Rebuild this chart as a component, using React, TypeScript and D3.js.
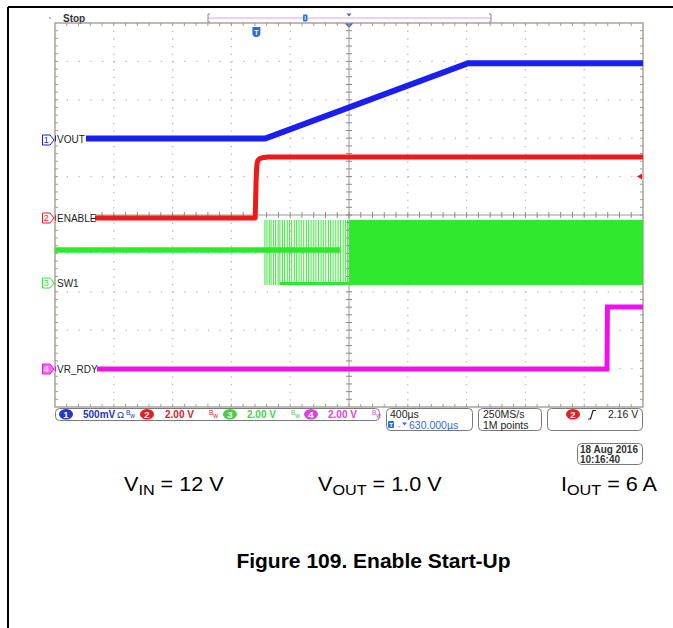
import React from 'react';
import * as d3 from 'd3';

// ---------- data ----------
const timeWindowUs = [-1370, 2630]; // 400 µs/div, 10 div, centre = trigger + 630 µs
const channelNames = ['VOUT', 'ENABLE', 'SW1', 'VR_RDY'];
const channelNumbers = ['1', '2', '3', '4'];
const channelScaleText = ['500mV', '2.00 V', '2.00 V', '2.00 V'];
const voltsPerDiv = [0.5, 2, 2, 2];

const voutTimes = [-1370, 60, 1440, 2630];
const voutVolts = [0, 0, 0.98, 0.98];

const enableTimes = [-1370, -8, -5, -2, 0, 2, 5, 10, 20, 40, 80, 2630];
const enableVolts = [0, 0, 1.0, 1.9, 2.3, 2.65, 2.85, 3.0, 3.08, 3.14, 3.18, 3.18];

const sw1IdleTimes = [-1370, 568];
const sw1IdleVolts = [1.72, 1.72];
const sw1PulseTimes = [58, 72, 88, 100, 116, 130, 148, 160, 178, 192, 210, 225, 240, 258, 272, 290, 305, 322, 340, 355, 372, 390, 405, 422, 440, 455, 472, 490, 505, 522, 540, 556, 572, 590, 605, 620];
const sw1LowRailTimes = [160, 630];
const sw1BandTimes = [630, 2630];
const sw1LowVolts = -0.1;
const sw1HighVolts = 3.28;

const vrRdyTimes = [-1370, 2385, 2388, 2630];
const vrRdyVolts = [0, 0, 3.23, 3.23];

const triggerLevelVolts = 2.16;
const triggerLevelText = '2.16 V';
const horizontalScaleText = '400µs';
const delayText = '630.000µs';
const delayUs = 630;
const sampleRateText = '250MS/s';
const recordLengthText = '1M points';
const dateLines = ['18 Aug 2016', '10:16:40'];

const condMain = ['V', 'V', 'I'];
const condSub = ['IN', 'OUT', 'OUT'];
const condRest = [' = 12 V', ' = 1.0 V', ' = 6 A'];
const captionText = 'Figure 109. Enable Start-Up';

// ---------- layout ----------
const W = 673, H = 628;
const GL = 55, GR = 643, GT = 23, GB = 407;
const divX = (GR - GL) / 10;
const divY = (GB - GT) / 10;
const grounds = [138.5, 218, 283, 369];
const colors = ['#1a1ef0', '#f01818', '#2ee82e', '#ee10ee'];
const statusColors = ['#2236c8', '#e22020', '#46d046', '#e040e0'];
const FONT = "'Liberation Sans', Arial, sans-serif";

const x = d3.scaleLinear().domain(timeWindowUs).range([GL, GR]);
const yScales = voltsPerDiv.map((vpd, i) =>
  d3.scaleLinear().domain([0, vpd]).range([grounds[i], grounds[i] - divY])
);

function linePath(ts: number[], vs: number[], ch: number) {
  const pts = ts.map((t, i) => [t, vs[i]] as [number, number]);
  return d3.line<[number, number]>().x(d => x(d[0])).y(d => yScales[ch](d[1]))(pts) || '';
}

function Graticule() {
  const els: React.ReactNode[] = [];
  const gridCol = '#b9b9b9';
  d3.range(1, 10).forEach(i => {
    if (i === 5) return;
    const gx = GL + i * divX;
    els.push(<line key={'vx' + i} x1={gx} x2={gx} y1={GT} y2={GB} stroke={gridCol} strokeWidth={1.3} strokeDasharray={`1.3 ${divY / 5 - 1.3}`} />);
    const gy = GT + i * divY;
    els.push(<line key={'hy' + i} x1={GL} x2={GR} y1={gy} y2={gy} stroke={gridCol} strokeWidth={1.3} strokeDasharray={`1.3 ${divX / 5 - 1.3}`} />);
  });
  const cx = GL + 5 * divX, cy = GT + 5 * divY;
  els.push(<line key="cxl" x1={cx} x2={cx} y1={GT} y2={GB} stroke="#9a9a9a" strokeWidth={1} />);
  els.push(<line key="cyl" x1={GL} x2={GR} y1={cy} y2={cy} stroke="#9a9a9a" strokeWidth={1} />);
  d3.range(1, 50).forEach(j => {
    const tx = GL + j * divX / 5;
    els.push(<line key={'ctx' + j} x1={tx} x2={tx} y1={cy - 3} y2={cy + 3} stroke="#8a8a8a" strokeWidth={1} />);
    els.push(<line key={'ttx' + j} x1={tx} x2={tx} y1={GT} y2={GT + 3} stroke="#9a9a9a" strokeWidth={1} />);
    els.push(<line key={'btx' + j} x1={tx} x2={tx} y1={GB - 3} y2={GB} stroke="#9a9a9a" strokeWidth={1} />);
    const ty = GT + j * divY / 5;
    els.push(<line key={'cty' + j} x1={cx - 3} x2={cx + 3} y1={ty} y2={ty} stroke="#8a8a8a" strokeWidth={1} />);
    els.push(<line key={'lty' + j} x1={GL} x2={GL + 3} y1={ty} y2={ty} stroke="#9a9a9a" strokeWidth={1} />);
    els.push(<line key={'rty' + j} x1={GR - 3} x2={GR} y1={ty} y2={ty} stroke="#9a9a9a" strokeWidth={1} />);
  });
  els.push(<rect key="border" x={GL} y={GT} width={GR - GL} height={GB - GT} fill="none" stroke="#a0968a" strokeWidth={1.3} />);
  return <g>{els}</g>;
}

function ChannelMarker({ ch }: { ch: number }) {
  const y = grounds[ch] + (ch === 0 ? 1.5 : 0);
  const filled = ch === 3;
  const col = colors[ch];
  return (
    <g>
      <path d={`M42.5,${y - 5} H50 L54,${y} L50,${y + 5} H42.5 Z`} fill={filled ? '#f070f0' : '#fff'} stroke={col} strokeWidth={1} />
      <text x={46.3} y={y + 3.3} fontSize={9} fontFamily={FONT} fill={filled ? '#fff' : col} textAnchor="middle">{channelNumbers[ch]}</text>
    </g>
  );
}

function Badge({ cx, cy, ch }: { cx: number; cy: number; ch: number }) {
  return (
    <g>
      <ellipse cx={cx} cy={cy} rx={7} ry={5.3} fill={statusColors[ch]} />
      <text x={cx} y={cy + 3.6} fontSize={9.5} fontWeight="bold" fontFamily={FONT} fill="#fff" textAnchor="middle">{channelNumbers[ch]}</text>
    </g>
  );
}

function BwIcon({ x0, y0, col }: { x0: number; y0: number; col: string }) {
  return (
    <text x={x0} y={y0} fontFamily={FONT} fill={col} fontSize={6.5}>
      <tspan dy={-2}>B</tspan><tspan dy={3}>w</tspan>
    </text>
  );
}

export default function App() {
  const labelTextW = [28, 37, 20, 39];
  const statusY = 418;
  const badgeX = [66, 147, 230, 311];
  const scaleTextX = [83, 165, 247, 328];
  const bwX = [126, 209, 291, 372];
  return (
    <svg width={W} height={H} viewBox={`0 0 ${W} ${H}`} style={{ position: 'absolute', left: 0, top: 0, background: '#fff' }}>
      <rect x={0} y={0} width={W} height={H} fill="#fff" />
      {/* page frame */}
      <line x1={8} x2={W} y1={7} y2={7} stroke="#000" strokeWidth={2} />
      <line x1={8} x2={8} y1={7} y2={H} stroke="#000" strokeWidth={2} />

      {/* top status */}
      <circle cx={50} cy={18} r={0.9} fill="#999" />
      <text x={63} y={21.5} fontSize={10} fontWeight="bold" fontFamily={FONT} fill="#333">Stop</text>
      <line x1={208} x2={491} y1={18} y2={18} stroke="#e4a4e4" strokeWidth={1} />
      <path d="M210,14 H208 V22 H210" fill="none" stroke="#888" strokeWidth={1} />
      <path d="M489,14 H491 V22 H489" fill="none" stroke="#888" strokeWidth={1} />
      <rect x={303} y={14.5} width={4.5} height={7} rx={1} fill="#2f74dc" />
      <rect x={304.5} y={16} width={1.5} height={4} fill="#9cc2f2" />
      <path d="M346.5,13.5 L351.5,13.5 L349,16.5 Z" fill="#2a6fd8" />
      <path d={`M${x(delayUs) - 4.5},${GT} L${x(delayUs) + 4.5},${GT} L${x(delayUs)},${GT + 5} Z`} fill="#2a6fd8" />
      <g>
        <path d={`M${x(0) - 4},27 H${x(0) + 4} V33 Q${x(0) + 4},37 ${x(0)},37 Q${x(0) - 4},37 ${x(0) - 4},33 Z`} fill="#2a6fd8" />
        <text x={x(0)} y={34.5} fontSize={7} fontWeight="bold" fontFamily={FONT} fill="#fff" textAnchor="middle">T</text>
      </g>

      <Graticule />

      {/* traces */}
      <defs>
        <clipPath id="gclip"><rect x={GL} y={GT} width={GR - GL} height={GB - GT} /></clipPath>
      </defs>
      <g clipPath="url(#gclip)">
        <path d={linePath(sw1IdleTimes, sw1IdleVolts, 2)} stroke={colors[2]} strokeWidth={5.5} fill="none" />
        {sw1PulseTimes.map((t, i) => (
          <line key={'p' + i} x1={x(t)} x2={x(t)} y1={yScales[2](sw1HighVolts)} y2={yScales[2](sw1LowVolts)} stroke={colors[2]} strokeWidth={1.1} opacity={0.85} />
        ))}
        <line x1={x(sw1LowRailTimes[0])} x2={x(sw1LowRailTimes[1])} y1={yScales[2](sw1LowVolts) - 1.5} y2={yScales[2](sw1LowVolts) - 1.5} stroke={colors[2]} strokeWidth={3} />
        <rect x={x(sw1BandTimes[0])} width={x(sw1BandTimes[1]) - x(sw1BandTimes[0])} y={yScales[2](sw1HighVolts)} height={yScales[2](sw1LowVolts) - yScales[2](sw1HighVolts)} fill={colors[2]} />
        <path d={linePath(vrRdyTimes, vrRdyVolts, 3)} stroke={colors[3]} strokeWidth={5} fill="none" />
        <path d={linePath(enableTimes, enableVolts, 1)} stroke={colors[1]} strokeWidth={5} fill="none" strokeLinejoin="round" />
        <path d={linePath(voutTimes, voutVolts, 0)} stroke={colors[0]} strokeWidth={6} fill="none" />
      </g>

      {/* trigger level marker */}
      <path d={`M${GR - 6},${yScales[1](triggerLevelVolts)} L${GR - 1},${yScales[1](triggerLevelVolts) - 3} L${GR - 1},${yScales[1](triggerLevelVolts) + 3} Z`} fill={colors[1]} />

      {/* channel labels */}
      {channelNames.map((name, ch) => (
        <g key={name}>
          <rect x={56} y={grounds[ch] - 5.5} width={labelTextW[ch] + 2} height={11} fill="#fff" />
          <text x={57} y={grounds[ch] + 4} fontSize={10} fontFamily={FONT} fill="#222">{name}</text>
          <ChannelMarker ch={ch} />
        </g>
      ))}

      {/* bottom status boxes */}
      <rect x={55.5} y={408.5} width={324} height={12} rx={4} fill="#fff" stroke="#7a7a7a" strokeWidth={1} />
      {channelNumbers.map((n, ch) => (
        <g key={'st' + n}>
          <Badge cx={badgeX[ch]} cy={414.3} ch={ch} />
          <text x={scaleTextX[ch]} y={statusY} fontSize={10} fontWeight="bold" fontFamily={FONT} fill={statusColors[ch]}>{channelScaleText[ch]}</text>
          {ch === 0 && <text x={117} y={statusY} fontSize={9.5} fontFamily={FONT} fill={statusColors[0]}>Ω</text>}
          <BwIcon x0={bwX[ch]} y0={statusY - 1} col={statusColors[ch]} />
        </g>
      ))}

      <rect x={386.5} y={408.5} width={86} height={22} rx={4} fill="#fff" stroke="#7a7a7a" strokeWidth={1} />
      <text x={390} y={418} fontSize={10.5} fontFamily={FONT} fill="#222">{horizontalScaleText}</text>
      <rect x={388} y={421} width={6} height={7} rx={1} fill="#2a6fd8" />
      <text x={391} y={427} fontSize={6} fontWeight="bold" fontFamily={FONT} fill="#fff" textAnchor="middle">T</text>
      <text x={395} y={427.5} fontSize={7} fontFamily={FONT} fill="#2a6fd8">→</text>
      <path d="M402,422.5 L407,422.5 L404.5,425.5 Z" fill="#2a6fd8" />
      <text x={409} y={429} fontSize={10.5} fontFamily={FONT} fill="#2a6fd8">{delayText}</text>

      <rect x={478.5} y={408.5} width={63} height={22} rx={4} fill="#fff" stroke="#7a7a7a" strokeWidth={1} />
      <text x={483} y={418} fontSize={10.5} fontFamily={FONT} fill="#222">{sampleRateText}</text>
      <text x={483} y={429} fontSize={10.5} fontFamily={FONT} fill="#222">{recordLengthText}</text>

      <rect x={547.5} y={408.5} width={95} height={22} rx={4} fill="#fff" stroke="#7a7a7a" strokeWidth={1} />
      <Badge cx={573} cy={414.3} ch={1} />
      <path d="M588,419 H590.5 L593,410.5 H596" fill="none" stroke="#222" strokeWidth={1.2} />
      <text x={608} y={418} fontSize={10.5} fontFamily={FONT} fill="#222">{triggerLevelText}</text>

      <rect x={577.5} y={443.5} width={65} height={21} rx={4} fill="#fff" stroke="#7a7a7a" strokeWidth={1} />
      <text x={580} y={452.5} fontSize={10} fontWeight="bold" fontFamily={FONT} fill="#333">{dateLines[0]}</text>
      <text x={580} y={463} fontSize={10} fontWeight="bold" fontFamily={FONT} fill="#333">{dateLines[1]}</text>

      {/* conditions */}
      {[124, 318, 561].map((cx0, i) => (
        <g key={'c' + i} transform={`translate(${cx0},491) scale(1.08,1)`}>
          <text x={0} y={0} fontSize={20} fontFamily={FONT} fill="#000">
            <tspan>{condMain[i]}</tspan>
            <tspan fontSize={15} dy={4}>{condSub[i]}</tspan>
            <tspan dy={-4}>{condRest[i]}</tspan>
          </text>
        </g>
      ))}

      <text x={373.5} y={568} fontSize={21} fontWeight="bold" fontFamily={FONT} fill="#000" textAnchor="middle">{captionText}</text>
    </svg>
  );
}
